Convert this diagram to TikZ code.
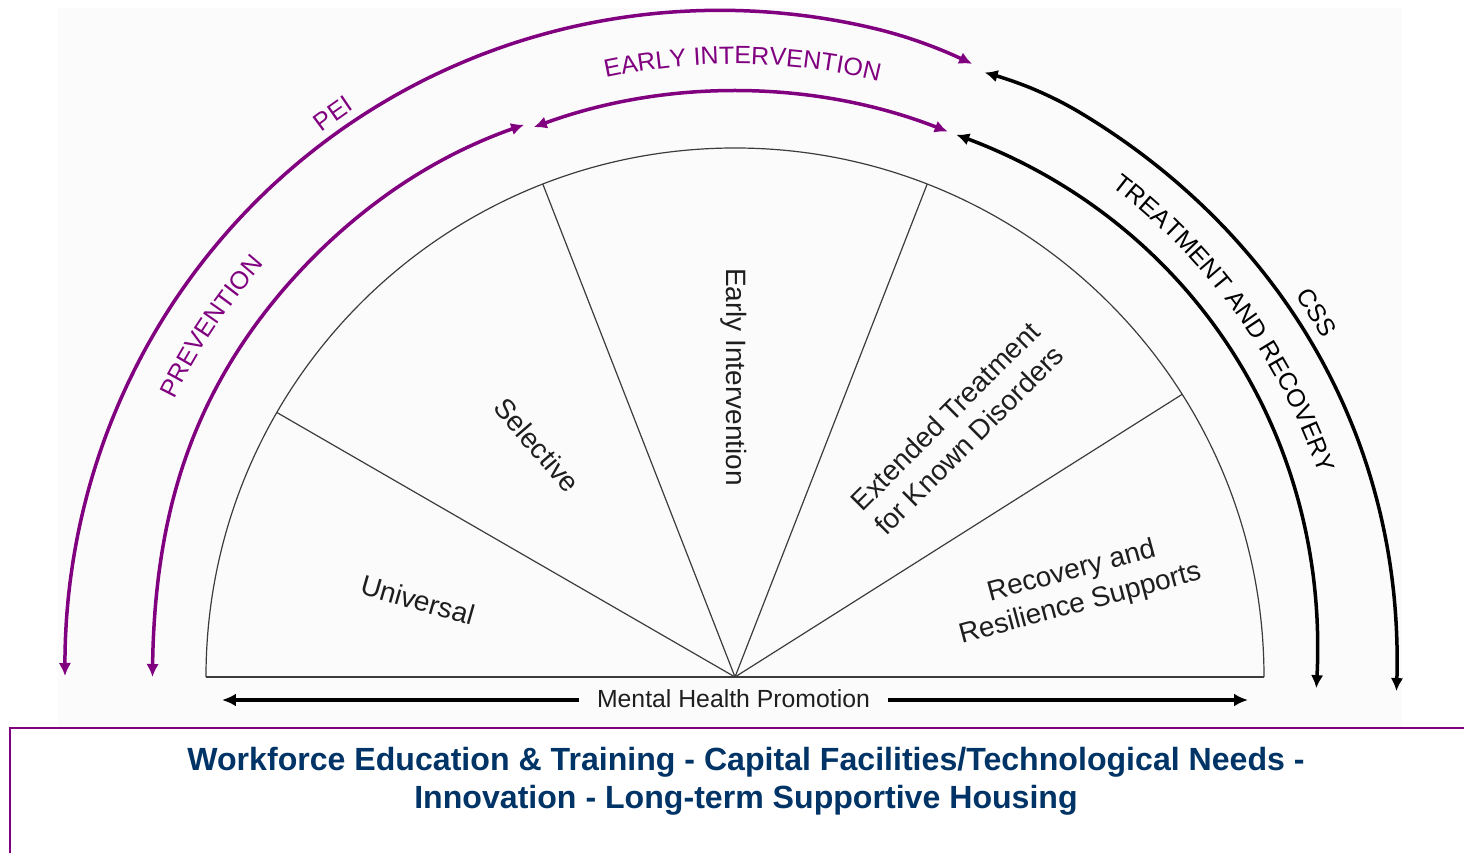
\documentclass[tikz,border=0pt]{standalone}
\usepackage{fontspec}
\setmainfont{Liberation Sans}
\usetikzlibrary{arrows.meta,decorations.text}
\definecolor{pur}{RGB}{128,0,128}
\definecolor{navy}{RGB}{0,51,102}
\definecolor{bggray}{RGB}{251,251,251}
\definecolor{ink}{RGB}{30,30,30}
\definecolor{wire}{RGB}{60,60,60}
\newcommand\labfont{\fontsize{25}{30}\selectfont}
\begin{document}
\begin{tikzpicture}[x=1pt,y=1pt,
  declare function={
    rpi(\t)=582.5+12.5*(1-(1+cos(4*\t))*(1+cos(4*\t))/4);
    rbi(\t)=582+12.5*sin(2.4*\t);
    rpo(\t)=666+5.5*sin((180-\t)*2.045)-4*max(0,(78-\t)/9.5)*max(0,(78-\t)/9.5);
    rbo(\t)=666+4*sin(4*\t)-7*max(0,(\t-58)/9)*max(0,(\t-58)/9);
  },
  band/.style={line width=3.5pt,{Latex[length=13pt,width=12.5pt]}-{Latex[length=13pt,width=12.5pt]}},
  sector/.style={draw=wire,line width=1.2pt},
  seg/.style={font=\fontsize{28}{33.6}\selectfont,text=ink,align=center,inner sep=0pt},
  mharrow/.style={line width=3.5pt,-{Latex[length=14pt,width=13pt]}},
  foot/.style={font=\fontsize{32.1}{38}\selectfont\bfseries,text=navy,anchor=base,inner sep=0pt}
]
\useasboundingbox (-735,-175) rectangle (729,677);
\fill[bggray] (-677,-51) rectangle (667,669);

% semicircle with sectors
\coordinate (O) at (0,0);
\draw[sector] (-529,0) arc[start angle=180,end angle=0,radius=529];
\draw[draw=wire,line width=2pt] (-529,0) -- (529,0);
\draw[sector] (O) -- (150:529);
\draw[sector] (O) -- (111.3:529);
\draw[sector] (O) -- (68.7:529);
\draw[sector] (O) -- (32.3:529);

% inner arcs
\draw[band,pur] plot[domain=180:110.9,samples=50,smooth,variable=\t] ({rpi(\t)*cos(\t)},{rpi(\t)*sin(\t)});
\draw[band,pur] (110.1:585.5) arc[start angle=110.1,end angle=68.7,radius=585.5];
\draw[band,black] plot[domain=67.8:-1.1,samples=50,smooth,variable=\t] ({rbi(\t)*cos(\t)},{rbi(\t)*sin(\t)});

% outer arcs
\begin{scope}[shift={(-4,1)}]
\draw[band,pur] plot[domain=180:68.5,samples=70,smooth,variable=\t] ({rpo(\t)*cos(\t)},{rpo(\t)*sin(\t)});
\draw[band,black] plot[domain=67.2:-1.3,samples=50,smooth,variable=\t] ({rbo(\t)*cos(\t)},{rbo(\t)*sin(\t)});
\end{scope}

% curved labels
\path[decorate,decoration={text along path,text align=center,text color=pur,text={|\labfont|PEI}}]
  (140:683.5) arc[start angle=140,end angle=111,radius=683.5];
\path[decorate,decoration={text along path,text align=center,text color=pur,text={|\labfont|PREVENTION}}]
  (166.2:626) arc[start angle=166.2,end angle=126.2,radius=626];
\path[decorate,decoration={text along path,text align=center,text color=pur,text={|\labfont|EARLY INTERVENTION}}]
  (120:613) arc[start angle=120,end angle=58.6,radius=613];
\path[decorate,decoration={text along path,text align=center,text color=black,text={|\labfont|TREATMENT AND RECOVERY}}]
  (60:618.5) arc[start angle=60,end angle=11.7,radius=618.5];
\path[decorate,decoration={text along path,text align=center,text color=black,text={|\labfont|CSS}}]
  (47:678) arc[start angle=47,end angle=17.2,radius=678];

% sector labels
\node[seg,rotate=-16] (univ) at (-317,77) {Universal};
\node[seg,rotate=-49.4] (sel) at (-198,232) {Selective};
\node[seg,rotate=-90] (ei) at (-1,300) {Early Intervention};
\node[seg,rotate=45] (ext) at (222,249) {Extended Treatment\\for Known Disorders};
\node[seg,rotate=15] (rec) at (341,89) {Recovery and\\Resilience Supports};

% mental health promotion
\coordinate (mhL) at (-513,-23);
\coordinate (mhR) at (513,-23);
\node[font=\fontsize{24.8}{29}\selectfont,text=ink,inner xsep=18pt,inner ysep=0pt,anchor=base] (mhp) at (-1.5,-30) {Mental Health Promotion};
\draw[mharrow] (mhp.west |- mhL) -- (mhL);
\draw[mharrow] (mhp.east |- mhR) -- (mhR);

% footer frame and text
\draw[pur,line width=2.5pt] (-725,-180) -- (-725,-51) -- (735,-51);
\node[foot] (wf1) at (11,-93) {Workforce Education \& Training - Capital Facilities/Technological Needs -};
\node[foot] (wf2) at (11,-131) {Innovation - Long-term Supportive Housing};
\end{tikzpicture}
\end{document}
